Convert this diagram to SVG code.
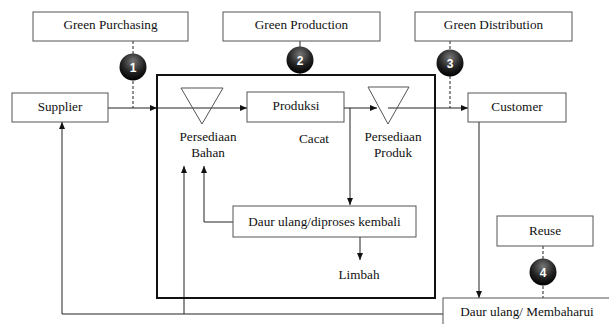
<svg xmlns="http://www.w3.org/2000/svg" width="609" height="324" viewBox="0 0 609 324">
<style>
.box{fill:#fff;stroke:#555;stroke-width:1}
.t{font-family:'Liberation Serif','Times New Roman','DejaVu Serif',serif;font-size:13.2px;fill:#111;text-anchor:middle}
.ln{fill:none;stroke:#222;stroke-width:1}
.dash{fill:none;stroke:#222;stroke-width:1;stroke-dasharray:3,2}
.tri{fill:none;stroke:#555;stroke-width:1}
.bn{font-family:'Liberation Sans',Arial,sans-serif;font-size:12px;font-weight:bold;fill:#fff;text-anchor:middle}
</style>
<defs>
<marker id="ah" markerWidth="8" markerHeight="8" refX="7" refY="4" orient="auto" markerUnits="userSpaceOnUse">
<path d="M0,1 L7,4 L0,7 Z" fill="#111"/>
</marker>
<radialGradient id="bg" cx="0.5" cy="0.3" r="0.7">
<stop offset="0" stop-color="#777"/>
<stop offset="0.6" stop-color="#222"/>
<stop offset="1" stop-color="#000"/>
</radialGradient>
</defs>
<rect width="609" height="324" fill="#fff"/>
<g id="connectors">
<line class="dash" x1="133" y1="41" x2="133" y2="108"/>
<line class="ln" x1="300" y1="41" x2="300" y2="75" stroke="#666"/>
<line class="dash" x1="450" y1="41" x2="450" y2="108"/>
<line class="dash" x1="543" y1="246" x2="543" y2="298"/>
<line class="ln" x1="108" y1="108" x2="157" y2="108" marker-end="url(#ah)"/>
<line class="ln" x1="157" y1="108" x2="247" y2="108" stroke="#555" marker-end="url(#ah)"/>
<line class="ln" x1="344" y1="108" x2="377" y2="108" stroke="#555" marker-end="url(#ah)"/>
<line class="ln" x1="388" y1="108" x2="468" y2="108" stroke="#555" marker-end="url(#ah)"/>
<polyline class="ln" points="350,108 350,205" stroke="#555" marker-end="url(#ah)"/>
<polyline class="ln" points="233,222 204,222 204,166" marker-end="url(#ah)"/>
<line class="ln" x1="360" y1="237" x2="360" y2="260" marker-end="url(#ah)"/>
<line class="ln" x1="479" y1="122" x2="479" y2="298" stroke="#555" marker-end="url(#ah)"/>
<polyline class="ln" points="443,314 62,314 62,122" stroke="#555" marker-end="url(#ah)"/>
<line class="ln" x1="184" y1="314" x2="184" y2="166" stroke="#555" marker-end="url(#ah)"/>
</g>
<g id="main-box"><rect x="157" y="75" width="278" height="223" fill="none" stroke="#111" stroke-width="2"/></g>
<g id="green-purchasing"><rect class="box" x="33" y="12" width="155" height="29"/><text class="t" x="110.5" y="29">Green Purchasing</text></g>
<g id="green-production"><rect class="box" x="223" y="12" width="157" height="29"/><text class="t" x="301.5" y="29">Green Production</text></g>
<g id="green-distribution"><rect class="box" x="415" y="12" width="157" height="29"/><text class="t" x="493.5" y="29">Green Distribution</text></g>
<g id="badge1"><circle cx="133" cy="67" r="13.5" fill="url(#bg)"/><text class="bn" x="133" y="71.5">1</text></g>
<g id="badge2"><circle cx="300" cy="60" r="13.5" fill="url(#bg)"/><text class="bn" x="300" y="64.5">2</text></g>
<g id="badge3"><circle cx="450" cy="63" r="13.5" fill="url(#bg)"/><text class="bn" x="450" y="67.5">3</text></g>
<g id="badge4"><circle cx="543" cy="272" r="13.5" fill="url(#bg)"/><text class="bn" x="543" y="276.5">4</text></g>
<g id="supplier"><rect class="box" x="12" y="93" width="96" height="29"/><text class="t" x="60" y="110.5">Supplier</text></g>
<g id="persediaan-bahan"><polygon class="tri" points="181,88 223,88 202,124"/><text class="t" x="208" y="141">Persediaan</text><text class="t" x="208" y="157">Bahan</text></g>
<g id="produksi"><rect class="box" x="247" y="92" width="97" height="30"/><text class="t" x="296" y="110">Produksi</text></g>
<g id="cacat"><text class="t" x="314" y="143">Cacat</text></g>
<g id="persediaan-produk"><polygon class="tri" points="368,87 409,87 388,124"/><text class="t" x="393" y="141">Persediaan</text><text class="t" x="393" y="157">Produk</text></g>
<g id="customer"><rect class="box" x="468" y="93" width="98" height="29"/><text class="t" x="517" y="110.5">Customer</text></g>
<g id="daur-ulang-diproses"><rect class="box" x="233" y="206" width="183" height="31"/><text class="t" x="324.5" y="225.5">Daur ulang/diproses kembali</text></g>
<g id="limbah"><text class="t" x="359" y="279">Limbah</text></g>
<g id="reuse"><rect class="box" x="497" y="216" width="96" height="30"/><text class="t" x="545" y="234.5">Reuse</text></g>
<g id="daur-ulang-membaharui"><rect class="box" x="443" y="298" width="175" height="40"/><text class="t" x="527" y="316">Daur ulang/ Membaharui</text></g>
</svg>
